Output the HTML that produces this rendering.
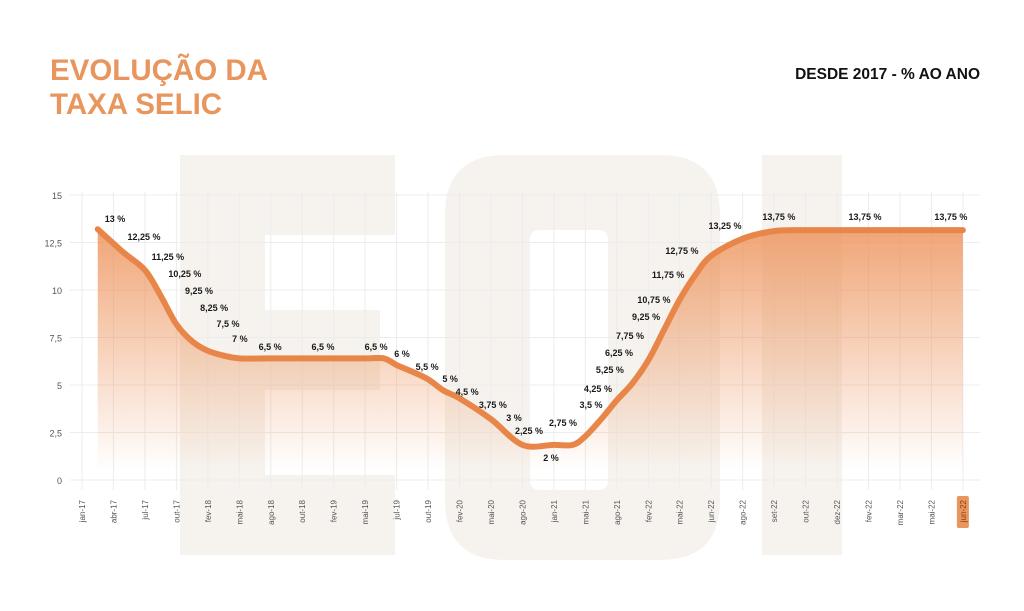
<!DOCTYPE html>
<html><head><meta charset="utf-8"><style>
body{margin:0;background:#fff;width:1024px;height:611px;overflow:hidden;font-family:"Liberation Sans",sans-serif;}
svg{position:absolute;left:0;top:0}
</style></head><body>
<svg id="chart" width="1024" height="611">
<g fill="#f6f3ee">
<path d="M180 155H395V235H265V310H380V390H265V475H395V555H180Z"/>
<path fill-rule="evenodd" d="M445 215Q445 155 505 155H660Q720 155 720 215V500Q720 560 660 560H505Q445 560 445 500Z M540 230H598Q608 230 608 240V480Q608 490 598 490H540Q530 490 530 480V240Q530 230 540 230Z"/>
<rect x="762" y="155" width="80" height="400"/>
</g>
<text x="50" y="80" font-size="29.5" font-weight="bold" fill="#e8955e">EVOLUÇÃO DA</text>
<text x="50" y="114" font-size="29.5" font-weight="bold" fill="#e8955e">TAXA SELIC</text>
<text x="980" y="79" font-size="15.5" font-weight="bold" fill="#111" text-anchor="end">DESDE 2017 - % AO ANO</text>
<defs><linearGradient id="fillg" x1="0" y1="0" x2="0" y2="1">
<stop offset="0" stop-color="#ec8f55" stop-opacity="0.8"/><stop offset="1" stop-color="#ec8f55" stop-opacity="0"/></linearGradient></defs>
<g id="grid"></g><g id="area"></g><g id="marks"></g><g id="labels"></g>
</svg>
<script>
const categories=["jan-17","abr-17","jul-17","out-17","fev-18","mai-18","ago-18","out-18","fev-19","mai-19","jul-19","out-19","fev-20","mai-20","ago-20","jan-21","mai-21","ago-21","fev-22","mai-22","jun-22","ago-22","set-22","out-22","dez-22","fev-22","mar-22","mai-22","jun-22"];
const yTicks=[0,2.5,5,7.5,10,12.5,15];
const yTickLabels=["0","2,5","5","7,5","10","12,5","15"];
const lineIdx=[0.5,1.3,2,2.5,3,3.5,4,4.5,5,6,7,8,9,9.6,10,10.5,11,11.5,12,13,14,15,15.6,16,16.5,17,17.5,18,18.5,19,19.5,20,21,22,23,24,25,26,27,28];
const lineVal=[13.2,12,11.05,9.7,8.2,7.3,6.8,6.55,6.4,6.4,6.4,6.4,6.4,6.4,6.05,5.7,5.3,4.7,4.3,3.2,1.85,1.85,1.85,2.3,3.2,4.2,5.1,6.3,7.9,9.5,10.8,11.8,12.7,13.1,13.15,13.15,13.15,13.15,13.15,13.15];
const labelText=["13 %","12,25 %","11,25 %","10,25 %","9,25 %","8,25 %","7,5 %","7 %","6,5 %","6,5 %","6,5 %","6 %","5,5 %","5 %","4,5 %","3,75 %","3 %","2,25 %","2 %","2,75 %","3,5 %","4,25 %","5,25 %","6,25 %","7,75 %","9,25 %","10,75 %","11,75 %","12,75 %","13,25 %","13,75 %","13,75 %","13,75 %"];
const labelIdx=[1.05,1.97,2.73,3.27,3.72,4.2,4.64,5.02,5.98,7.66,9.35,10.17,10.97,11.7,12.24,13.06,13.73,14.21,14.91,15.29,16.18,16.4,16.78,17.07,17.42,17.93,18.18,18.63,19.07,20.44,22.15,24.89,27.62];
const labelVal=[13.74,12.79,11.74,10.84,9.95,9.05,8.21,7.42,7.0,7.0,7.0,6.63,5.95,5.32,4.63,3.95,3.26,2.58,1.16,3.0,3.95,4.79,5.79,6.68,7.58,8.58,9.47,10.79,12.05,13.37,13.84,13.84,13.84];
const NS="http://www.w3.org/2000/svg";
const X0=82,XS=31.46,Y0=480,YS=19;
const xs=i=>X0+i*XS, ys=v=>Y0-v*YS;
function mk(t,a,p){const e=document.createElementNS(NS,t);for(const k in a)e.setAttribute(k,a[k]);p.appendChild(e);return e;}
const grid=document.getElementById('grid');
yTicks.forEach((v,i)=>{
 const l=mk('line',{x1:70,x2:980,y1:ys(v),y2:ys(v),stroke:'#ececec','stroke-width':1},grid);
 
 
 const t=mk('text',{x:62,y:ys(v)+4,'font-size':9,fill:'#555','text-anchor':'end'},grid);
 t.textContent=yTickLabels[i];
 
 
});
categories.forEach((c,i)=>{
 const x=xs(i);
 const l=mk('line',{x1:x,x2:x,y1:192,y2:490,stroke:'#ececec','stroke-width':1},grid);
 
 
 const last=i===categories.length-1;
 if(last){const r=mk('rect',{x:x-6,y:496,width:12,height:32,rx:2,fill:'#e8955e'},grid);
  
  }
 const t=mk('text',{x:0,y:0,'font-size':8,fill:last?'#8a3e10':'#555','text-anchor':'end',transform:`translate(${x+3},${500}) rotate(-90)`},grid);
 t.textContent=c;
 
 
});
const pts=lineIdx.map((v,i)=>[xs(v),ys(lineVal[i])]);
let d=`M${pts[0][0]},${pts[0][1]}`;
for(let i=0;i<pts.length-1;i++){const p0=pts[i-1]||pts[i],p1=pts[i],p2=pts[i+1],p3=pts[i+2]||p2;
 d+=` C${p1[0]+(p2[0]-p0[0])/6},${p1[1]+(p2[1]-p0[1])/6} ${p2[0]-(p3[0]-p1[0])/6},${p2[1]-(p3[1]-p1[1])/6} ${p2[0]},${p2[1]}`;}
const last=pts[pts.length-1];
const area=mk('path',{d:d+` L${last[0]},470 L${pts[0][0]},470 Z`,fill:'url(#fillg)'},document.getElementById('area'));


const line=mk('path',{d:d,fill:'none',stroke:'#e8864a','stroke-width':6,'stroke-linecap':'round','stroke-linejoin':'round'},document.getElementById('marks'));


const lg=document.getElementById('labels');
labelText.forEach((s,i)=>{
 const t=mk('text',{x:xs(labelIdx[i]),y:ys(labelVal[i])+3,'font-size':9,'font-weight':'bold',fill:'#1a1a1a','text-anchor':'middle'},lg);
 t.textContent=s;
 
 
});
</script>
</body></html>
